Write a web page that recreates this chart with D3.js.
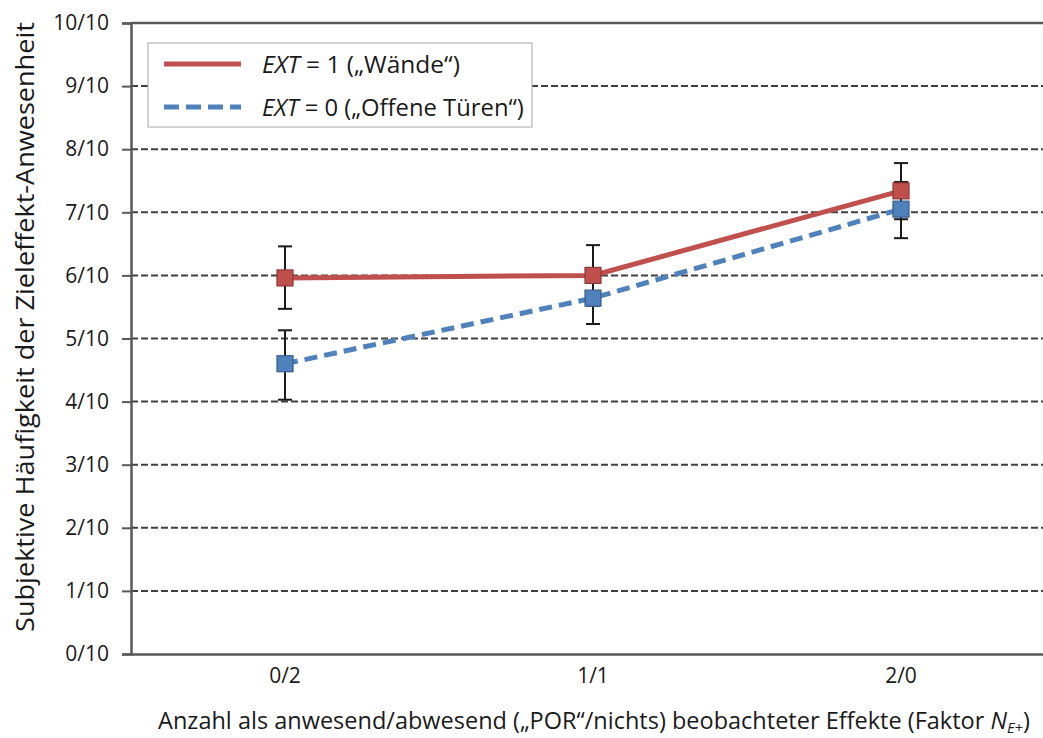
<!DOCTYPE html>
<html>
<head>
<meta charset="utf-8">
<script src="https://cdn.jsdelivr.net/npm/d3@7"></script>
<style>
  body { margin: 0; background: #fff; }
  text { font-family: "Open Sans", sans-serif; fill: #1a1a1a; }
</style>
</head>
<body>
<svg width="1043" height="738"></svg>
<script>
// data
var categories = ["0/2", "1/1", "2/0"];
var yTicks = [0, 0.1, 0.2, 0.3, 0.4, 0.5, 0.6, 0.7, 0.8, 0.9, 1.0];
var yTickLabels = ["0/10", "1/10", "2/10", "3/10", "4/10", "5/10", "6/10", "7/10", "8/10", "9/10", "10/10"];

var wallsMean = [0.596, 0.600, 0.734];
var wallsLow  = [0.547, 0.552, 0.689];
var wallsHigh = [0.646, 0.648, 0.778];

var doorsMean = [0.460, 0.564, 0.705];
var doorsLow  = [0.403, 0.523, 0.659];
var doorsHigh = [0.513, 0.608, 0.748];

var series = [
  {id: "walls", name: "= 1 (\u201EW\u00E4nde\u201C)", color: "#C0504D", stroke: "#8C3836", dash: null,
   mean: wallsMean, low: wallsLow, high: wallsHigh},
  {id: "doors", name: "= 0 (\u201EOffene T\u00FCren\u201C)", color: "#4F81BD", stroke: "#385D8A", dash: "13,7",
   mean: doorsMean, low: doorsLow, high: doorsHigh}
];

var svg = d3.select("svg"),
    margin = {top: 23, right: -12, bottom: 84, left: 131},
    width = 1043 - margin.left - margin.right,
    height = 738 - margin.top - margin.bottom,
    g = svg.append("g").attr("transform", "translate(" + margin.left + "," + margin.top + ")");

var x = d3.scaleBand().domain(categories).range([0, width]).padding(0),
    y = d3.scaleLinear().domain([0, 1]).range([height, 0]);

// squeeze a text element horizontally (in its own frame) to a target length
function fitWidth(sel, target, cx, cy) {
  var w = sel.node().getBBox().width;
  var k = target / w;
  sel.attr("transform", (sel.attr("transform") || "") +
    " translate(" + cx + "," + cy + ") scale(" + k + ",1) translate(" + (-cx) + "," + (-cy) + ")");
}

// grid lines
g.append("g")
  .selectAll("line")
  .data(yTicks.filter(function(d) { return d > 0 && d < 1; }))
  .enter().append("line")
    .attr("x1", 0)
    .attr("x2", width)
    .attr("y1", function(d) { return y(d); })
    .attr("y2", function(d) { return y(d); })
    .style("stroke", "#404040")
    .style("stroke-width", 2)
    .style("stroke-dasharray", "7,3");

// top border
g.append("line")
    .attr("x1", 0).attr("x2", width)
    .attr("y1", y(1)).attr("y2", y(1))
    .style("stroke", "#595959")
    .style("stroke-width", 2.5);

// y axis
var yAxis = g.append("g")
    .call(d3.axisLeft(y).tickValues(yTicks).tickFormat(function(d, i) { return yTickLabels[i]; }).tickSize(9).tickPadding(13));
yAxis.select(".domain").style("stroke", "#595959").style("stroke-width", 2.5);
yAxis.selectAll(".tick line").style("stroke", "#595959").style("stroke-width", 2);
yAxis.selectAll(".tick text").style("font-family", "'Open Sans', sans-serif").style("font-size", "21px").style("fill", "#1a1a1a");

// x axis
var xAxis = g.append("g")
    .attr("transform", "translate(0," + height + ")")
    .call(d3.axisBottom(x).tickSize(0).tickPadding(14));
xAxis.select(".domain").style("stroke", "#595959").style("stroke-width", 2.5);
xAxis.selectAll(".tick text").style("font-family", "'Open Sans', sans-serif").style("font-size", "21px").style("fill", "#1a1a1a");

var cx = function(i) { return x(categories[i]) + x.bandwidth() / 2; };

var line = d3.line()
    .x(function(d, i) { return cx(i); })
    .y(function(d) { return y(d); });

// lines
series.forEach(function(s) {
  g.append("path")
      .attr("d", line(s.mean))
      .style("fill", "none")
      .style("stroke", s.color)
      .style("stroke-width", 5)
      .style("stroke-dasharray", s.dash);
});

// error bars
series.forEach(function(s) {
  var eb = g.append("g");
  s.mean.forEach(function(m, i) {
    eb.append("line")
        .attr("x1", cx(i)).attr("x2", cx(i))
        .attr("y1", y(s.low[i])).attr("y2", y(s.high[i]))
        .style("stroke", "#1a1a1a").style("stroke-width", 2);
    [s.low[i], s.high[i]].forEach(function(v) {
      eb.append("line")
          .attr("x1", cx(i) - 7).attr("x2", cx(i) + 7)
          .attr("y1", y(v)).attr("y2", y(v))
          .style("stroke", "#1a1a1a").style("stroke-width", 2);
    });
  });
});

// markers
series.forEach(function(s) {
  g.append("g").selectAll("rect")
    .data(s.mean)
    .enter().append("rect")
      .attr("x", function(d, i) { return cx(i) - 8; })
      .attr("y", function(d) { return y(d) - 8; })
      .attr("width", 16)
      .attr("height", 16)
      .style("fill", s.color)
      .style("stroke", s.stroke)
      .style("stroke-width", 1.2);
});

// legend
var legend = svg.append("g").attr("transform", "translate(148,43)");
legend.append("rect")
    .attr("width", 384).attr("height", 84)
    .style("fill", "#fff")
    .style("stroke", "#a6a6a6")
    .style("stroke-width", 1);
var legendWidths = [198, 262];
series.forEach(function(s, i) {
  var ly = 21 + i * 43;
  legend.append("line")
      .attr("x1", 16).attr("x2", 93)
      .attr("y1", ly).attr("y2", ly)
      .style("stroke", s.color)
      .style("stroke-width", 5)
      .style("stroke-dasharray", s.dash ? "15,7" : null);
  var t = legend.append("text")
      .attr("x", 114).attr("y", ly + 9)
      .style("font-size", "24px");
  t.append("tspan").style("font-style", "italic").text("EXT");
  t.append("tspan").text(" " + s.name);
  fitWidth(t, legendWidths[i], 114, ly);
});

// axis titles
var yt = svg.append("text")
    .attr("transform", "translate(34,327) rotate(-90)")
    .attr("text-anchor", "middle")
    .style("font-size", "26px")
    .text("Subjektive H\u00E4ufigkeit der Zieleffekt-Anwesenheit");
fitWidth(yt, 610, 0, 0);

var xt = svg.append("text")
    .attr("x", 594).attr("y", 729)
    .attr("text-anchor", "middle")
    .style("font-size", "24px");
xt.append("tspan").text("Anzahl als anwesend/abwesend (\u201EPOR\u201C/nichts) beobachteter Effekte (Faktor ");
xt.append("tspan").style("font-style", "italic").text("N");
xt.append("tspan").style("font-style", "italic").style("font-size", "15px").attr("dy", 4).text("E+");
xt.append("tspan").attr("dy", -4).text(")");
fitWidth(xt, 872, 594, 729);
</script>
</body>
</html>
